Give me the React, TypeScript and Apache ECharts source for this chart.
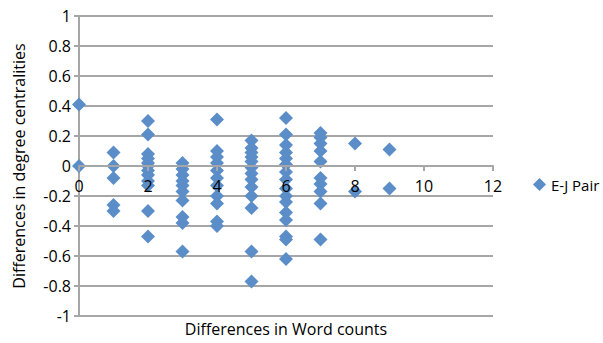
import React, { useEffect, useRef } from "react";
import * as echarts from "echarts";

// Degree-centrality differences grouped by word-count difference
const wordDiff0 = [0.41, 0];
const wordDiff1 = [0.09, 0.0, -0.08, -0.26, -0.3];
const wordDiff2 = [0.3, 0.21, 0.08, 0.05, 0.02, 0, -0.03, -0.06, -0.1, -0.13, -0.3, -0.47];
const wordDiff3 = [0.02, -0.02, -0.06, -0.1, -0.13, -0.17, -0.23, -0.34, -0.38, -0.57];
const wordDiff4 = [0.31, 0.1, 0.06, 0.02, -0.03, -0.08, -0.13, -0.2, -0.25, -0.37, -0.4];
const wordDiff5 = [0.17, 0.12, 0.09, 0.06, 0.03, -0.01, -0.05, -0.09, -0.14, -0.2, -0.28, -0.57, -0.77];
const wordDiff6 = [0.32, 0.21, 0.14, 0.09, 0.05, 0.01, -0.04, -0.09, -0.15, -0.2, -0.24, -0.31, -0.36, -0.47, -0.49, -0.62];
const wordDiff7 = [0.22, 0.19, 0.15, 0.1, 0.03, -0.08, -0.12, -0.17, -0.25, -0.49];
const wordDiff8 = [0.15, -0.17];
const wordDiff9 = [0.11, -0.15];

const columns = [wordDiff0, wordDiff1, wordDiff2, wordDiff3, wordDiff4, wordDiff5, wordDiff6, wordDiff7, wordDiff8, wordDiff9];

const seriesName = "E-J Pair";
const xTitle = "Differences in Word counts";
const yTitle = "Differences in degree centralities";

const FONT = "'Open Sans', 'Noto Sans', sans-serif";
const GRID = "#a6a6a6";
const MARK = "#5b8ec8";

export default function App() {
  const ref = useRef<HTMLDivElement>(null);

  useEffect(() => {
    if (!ref.current) return;
    const chart = echarts.init(ref.current, undefined, { renderer: "svg" });
    const points: number[][] = [];
    columns.forEach((vals, x) => vals.forEach((v) => points.push([x, v])));

    chart.setOption({
      animation: false,
      backgroundColor: "#fff",
      textStyle: { fontFamily: FONT },
      grid: { left: 79, right: 110, top: 16, bottom: 27 },
      xAxis: {
        type: "value",
        min: 0,
        max: 12,
        interval: 2,
        // x axis sits on the zero line, halfway up the 300px plot
        offset: -150,
        z: 5,
        axisLine: { onZero: false, lineStyle: { color: GRID, width: 2 } },
        axisTick: { show: true, length: 5, lineStyle: { color: GRID, width: 2 } },
        axisLabel: { color: "#000", fontSize: 16, fontFamily: FONT, margin: 12 },
        splitLine: { show: false },
      },
      yAxis: {
        type: "value",
        min: -1,
        max: 1,
        interval: 0.2,
        name: yTitle,
        nameLocation: "middle",
        nameGap: 52,
        nameTextStyle: { color: "#000", fontSize: 16, fontFamily: FONT },
        axisLine: { show: true, onZero: false, lineStyle: { color: GRID, width: 2 } },
        axisTick: { show: true, length: 5, lineStyle: { color: GRID, width: 2 } },
        axisLabel: {
          color: "#000",
          fontSize: 16,
          fontFamily: FONT,
          margin: 8,
          formatter: (v: number) => String(Math.round(v * 10) / 10),
        },
        splitLine: { show: true, lineStyle: { color: GRID, width: 2 } },
      },
      legend: {
        data: [{ name: seriesName, icon: "diamond" }],
        left: 528,
        top: 172,
        itemWidth: 13,
        itemHeight: 13,
        itemGap: 4,
        textStyle: { color: "#000", fontSize: 15, fontFamily: FONT },
      },
      graphic: [
        {
          type: "text",
          x: 286,
          y: 329,
          style: {
            text: xTitle,
            fill: "#000",
            font: `16px ${FONT}`,
            align: "center",
            verticalAlign: "middle",
          },
        },
      ],
      series: [
        {
          name: seriesName,
          type: "scatter",
          symbol: "diamond",
          symbolSize: 14,
          itemStyle: { color: MARK, opacity: 1 },
          data: points,
        },
      ],
    });
    return () => chart.dispose();
  }, []);

  return (
    <div
      ref={ref}
      style={{ position: "fixed", left: 0, top: 0, width: 603, height: 343 }}
    />
  );
}
